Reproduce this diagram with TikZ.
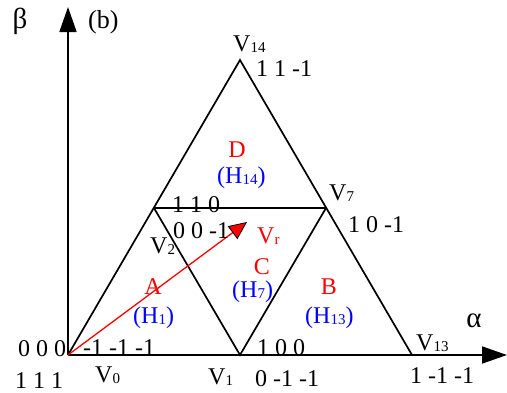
\documentclass[tikz,border=0pt]{standalone}
\usepackage{fontspec}
\setmainfont{Liberation Serif}
\usetikzlibrary{arrows.meta}
\newcommand\mysub[1]{\raisebox{-1.5pt}{\fontsize{15}{15}\selectfont #1}}
\begin{document}
\begin{tikzpicture}[x=1pt,y=-1pt,
  edge/.style={line width=1.7pt, line join=miter},
  axis/.style={line width=1.7pt, -{Triangle[length=25pt,width=17pt]}},
  vec/.style={red, line width=1.3pt, -{Triangle[length=18pt,width=16pt,color=black,fill=red,line width=0.8pt]}},
  lbl/.style={inner sep=0pt, anchor=base west, font=\fontsize{24}{24}\selectfont},
  lblc/.style={inner sep=0pt, anchor=base, font=\fontsize{24}{24}\selectfont},
  greek/.style={inner sep=0pt, anchor=base, font=\fontsize{29}{29}\selectfont},
  redt/.style={text=red},
  bluet/.style={text=blue}]
\useasboundingbox (0,0) rectangle (507,392);
% vertices
\coordinate (V0) at (68,355);
\coordinate (V1) at (240,355);
\coordinate (V13) at (412,355);
\coordinate (V2) at (154,208);
\coordinate (V7) at (326,208);
\coordinate (V14) at (240,60);
\coordinate (Ytip) at (68,7);
\coordinate (Xtip) at (507,355);
\coordinate (Vrtip) at (247,222);
% axes
\draw[axis] (V0) -- (Ytip);
\draw[axis] (V0) -- (Xtip);
% triangles
\draw[edge] (V0) -- (V14) -- (V13);
\draw[edge] (V2) -- (V7);
\draw[edge] (V2) -- (V1) -- (V7);
% reference vector
\draw[vec] (V0) -- (Vrtip);
% labels
\node[greek] (beta) at (20,28) {β};
\node[lbl,font=\fontsize{26}{26}\selectfont] (b) at (88,28) {(b)};
\node[lbl] (lV14) at (233,51) {V\mysub{14}};
\node[lbl] (s11m1) at (256,76) {1 1 -1};
\node[lblc,redt] (D) at (237,157) {D};
\node[lbl,bluet] (H14) at (217,183) {(H\mysub{14})};
\node[lbl] (lV7) at (329,200) {V\mysub{7}};
\node[lbl] (s10m1) at (348,232) {1 0 -1};
\node[lbl] (s110) at (172,212) {1 1 0};
\node[lbl] (s00m1) at (173,238) {0 0 -1};
\node[lbl] (lV2) at (150,253) {V\mysub{2}};
\node[lbl,redt] (lVr) at (257,243) {V\mysub{r}};
\node[lblc,redt] (C) at (262,274) {C};
\node[lbl,bluet] (H7) at (232,297) {(H\mysub{7})};
\node[lblc,redt] (B) at (329,294) {B};
\node[lbl,bluet] (H13) at (305,323) {(H\mysub{13})};
\node[greek] (alpha) at (474,327) {α};
\node[lbl] (lV13) at (416,350) {V\mysub{13}};
\node[lbl] (s1m1m1) at (410,383) {1 -1 -1};
\node[lbl] (s100) at (257,355) {1 0 0};
\node[lbl] (s0m1m1) at (255,386) {0 -1 -1};
\node[lbl] (lV1) at (208,384) {V\mysub{1}};
\node[lbl] (lV0) at (95,382) {V\mysub{0}};
\node[lbl] (s111) at (15,388) {1 1 1};
\node[lbl] (s000) at (18,356) {0 0 0};
\node[lbl] (sm1m1m1) at (83,355) {-1 -1 -1};
\node[lblc,redt] (A) at (153,294) {A};
\node[lbl,bluet] (H1) at (133,323) {(H\mysub{1})};
\end{tikzpicture}
\end{document}
